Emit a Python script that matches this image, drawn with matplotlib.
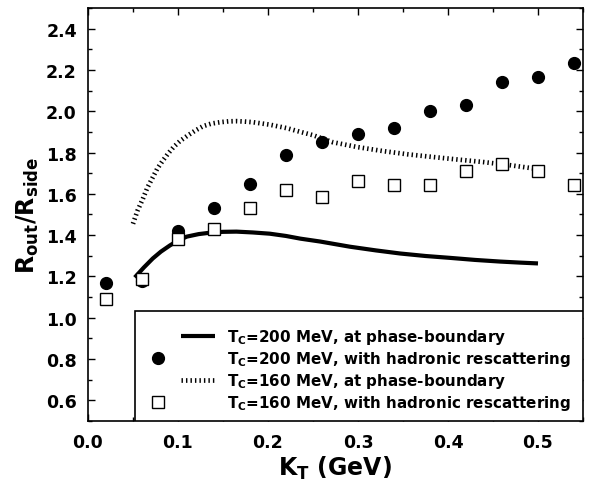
import matplotlib
matplotlib.use("Agg")
import numpy as np
import matplotlib.pyplot as plt
from matplotlib.patches import Rectangle
from matplotlib.ticker import MultipleLocator
from matplotlib.legend_handler import HandlerLine2D

plt.rcParams['font.family'] = ['DejaVu Sans']
plt.rcParams['font.weight'] = 'bold'
plt.rcParams['mathtext.fontset'] = 'dejavusans'
plt.rcParams['mathtext.default'] = 'bf'

# Tc=200 MeV, at phase boundary (solid curve)
kt_200_pb = [0.052, 0.062, 0.072, 0.081, 0.091, 0.100, 0.110, 0.123, 0.136, 0.150, 0.165, 0.183, 0.202, 0.220, 0.236, 0.258, 0.291, 0.320, 0.347, 0.375, 0.402, 0.430, 0.458, 0.480, 0.500]
r_200_pb = [1.195, 1.243, 1.287, 1.320, 1.350, 1.374, 1.393, 1.405, 1.412, 1.416, 1.417, 1.413, 1.407, 1.396, 1.383, 1.369, 1.344, 1.326, 1.311, 1.299, 1.290, 1.280, 1.272, 1.267, 1.263]

# Tc=200 MeV, with hadronic rescattering (filled circles)
kt_pts = [0.02, 0.06, 0.10, 0.14, 0.18, 0.22, 0.26, 0.30, 0.34, 0.38, 0.42, 0.46, 0.50, 0.54]
r_200_hr = [1.17, 1.18, 1.42, 1.53, 1.65, 1.79, 1.85, 1.89, 1.92, 2.00, 2.03, 2.14, 2.165, 2.235]

# Tc=160 MeV, at phase boundary (dotted curve)
kt_160_pb = [0.050, 0.055, 0.061, 0.066, 0.072, 0.077, 0.083, 0.089, 0.095, 0.102, 0.110, 0.119, 0.128, 0.137, 0.147, 0.156, 0.165, 0.174, 0.183, 0.202, 0.221, 0.236, 0.250, 0.272, 0.300, 0.328, 0.356, 0.384, 0.411, 0.439, 0.470, 0.500]
r_160_pb = [1.455, 1.518, 1.576, 1.630, 1.680, 1.722, 1.760, 1.795, 1.826, 1.855, 1.880, 1.906, 1.928, 1.940, 1.947, 1.951, 1.952, 1.950, 1.947, 1.935, 1.918, 1.900, 1.884, 1.850, 1.826, 1.807, 1.791, 1.778, 1.766, 1.754, 1.738, 1.720]

# Tc=160 MeV, with hadronic rescattering (open squares)
r_160_hr = [1.09, 1.19, 1.38, 1.43, 1.53, 1.62, 1.585, 1.66, 1.645, 1.645, 1.71, 1.745, 1.71, 1.645]

labels = [r'T$_{C}$=200 MeV, at phase-boundary',
          r'T$_{C}$=200 MeV, with hadronic rescattering',
          r'T$_{C}$=160 MeV, at phase-boundary',
          r'T$_{C}$=160 MeV, with hadronic rescattering']


class OffsetHandler(HandlerLine2D):
    """Lines drawn on the right half of the handle box, markers near its left."""
    def create_artists(self, legend, orig_handle, xdescent, ydescent,
                       width, height, fontsize, trans):
        artists = super().create_artists(
            legend, orig_handle, xdescent, ydescent, width, height, fontsize, trans)
        x0 = -xdescent
        for a in artists:
            ls = a.get_linestyle()
            mk = a.get_marker()
            has_line = ls not in ('None', 'none', '', ' ')
            has_marker = mk not in (None, 'None', 'none', '', ' ')
            n = len(a.get_xdata())
            if has_line and not has_marker:
                a.set_xdata(np.linspace(x0 + 0.5 * width, x0 + width, n))
            elif has_marker and not has_line:
                xm = x0 + 0.15 * width
                a.set_xdata(np.full(n, xm))
        return artists


fig = plt.figure(figsize=(5.92, 4.81), dpi=100)
ax = fig.add_axes([0.1486, 0.1227, 0.8362, 0.8586])

l1, = ax.plot(kt_200_pb, r_200_pb, color='black', lw=3.0, solid_capstyle='butt', label=labels[0], zorder=3)
l2, = ax.plot(kt_pts, r_200_hr, 'o', color='black', ms=8.5, label=labels[1], zorder=4)
l3, = ax.plot(kt_160_pb, r_160_pb, color='black', lw=3.4, dashes=(0.3, 0.65), dash_capstyle='butt', label=labels[2], zorder=3)
l4, = ax.plot(kt_pts, r_160_hr, 's', mfc='white', mec='black', mew=1.0, ms=8.0, label=labels[3], zorder=4)

ax.set_xlim(0.0, 0.55)
ax.set_ylim(0.5, 2.5)
ax.xaxis.set_minor_locator(MultipleLocator(0.05))
ax.yaxis.set_minor_locator(MultipleLocator(0.1))
ax.set_yticks([0.6, 0.8, 1.0, 1.2, 1.4, 1.6, 1.8, 2.0, 2.2, 2.4])
ax.set_xticks([0.0, 0.1, 0.2, 0.3, 0.4, 0.5])
ax.set_xticklabels(['0.0', '0.1', '0.2', '0.3', '0.4', '0.5'])
ax.tick_params(which='both', direction='in', top=True, right=True, labelsize=12.5, width=1.0)
ax.tick_params(which='major', length=5)
ax.tick_params(which='minor', length=3)
ax.tick_params(axis='y', pad=8)
ax.tick_params(axis='x', pad=9)
for sp in ax.spines.values():
    sp.set_linewidth(1.2)

ax.set_xlabel(r'K$_{T}$ (GeV)', fontsize=17, fontweight='bold', labelpad=2)
ax.set_ylabel(r'R$_{out}$/R$_{side}$', fontsize=17, fontweight='bold', labelpad=4)

# legend box
box = Rectangle((0.095, 0.0), 0.905, 0.266, transform=ax.transAxes,
                facecolor='white', edgecolor='black', lw=1.2, zorder=5)
ax.add_patch(box)
leg = ax.legend(handles=[l1, l2, l3, l4], loc='lower left', bbox_to_anchor=(0.112, 0.010),
                frameon=False, fontsize=10.9, handlelength=4.4, handletextpad=0.85,
                labelspacing=0.2, borderaxespad=0.0, borderpad=0.3, numpoints=1,
                handler_map={matplotlib.lines.Line2D: OffsetHandler(numpoints=1)})
leg.set_zorder(6)

fig.savefig('out.png', dpi=100)
